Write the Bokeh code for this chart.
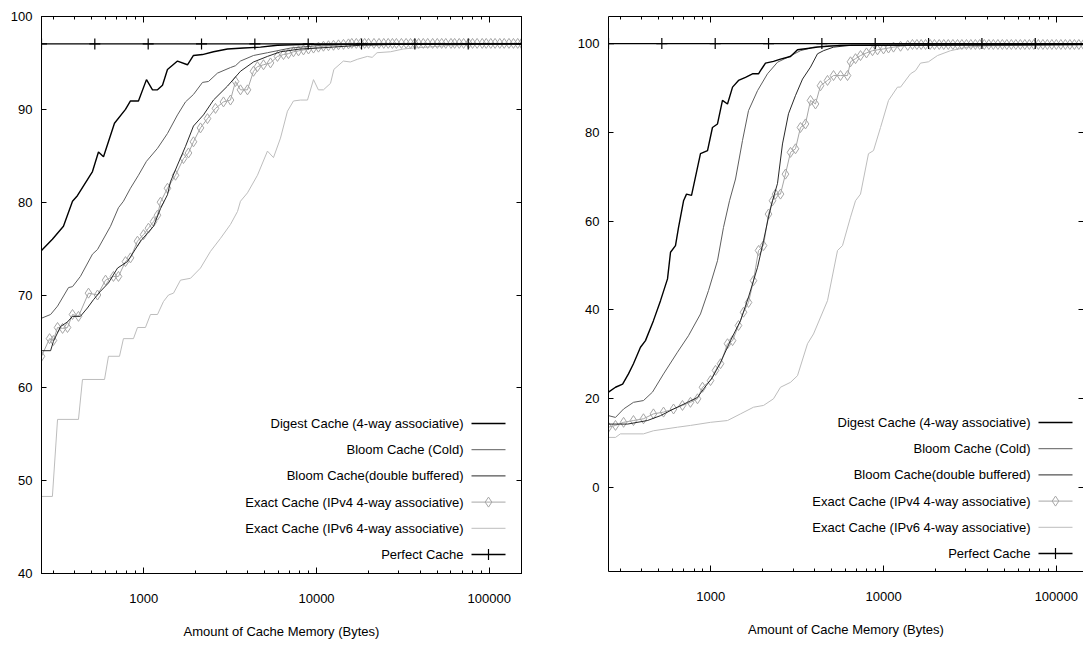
from math import log10
from bokeh.plotting import figure
from bokeh.layouts import row
from bokeh.models import LogAxis, LinearAxis, FixedTicker, PrintfTickFormatter
from bokeh.embed import file_html
from bokeh.resources import INLINE
from bokeh.core.properties import value

FONT = "Liberation Sans"
FSIZE = "13px"

SERIES_NAMES = [
    "Digest Cache (4-way associative)",
    "Bloom Cache (Cold)",
    "Bloom Cache(double buffered)",
    "Exact Cache (IPv4 4-way associative)",
    "Exact Cache (IPv6 4-way associative)",
    "Perfect Cache",
]

X_MAJOR_TICKS = [1000, 10000, 100000]
X_MINOR_TICKS = [300, 400, 500, 600, 700, 800, 900, 2000, 3000, 4000, 5000, 6000, 7000, 8000, 9000,
                 20000, 30000, 40000, 50000, 60000, 70000, 80000, 90000]
LEFT_Y_TICKS = [40, 50, 60, 70, 80, 90, 100]
RIGHT_Y_TICKS = [0, 20, 40, 60, 80, 100]

# ---------------- left panel ----------------
L_DIGEST_X = [256, 296, 343, 387, 413, 505, 547, 585, 677, 784, 838, 932, 1037, 1124, 1201, 1284, 1372, 1568,
              1791, 1940, 2188, 2533, 3052, 3778, 4739, 5942, 8866, 153600]
L_DIGEST_Y = [74.8, 76.0, 77.4, 80.1, 80.7, 83.3, 85.4, 84.9, 88.5, 90.0, 90.9, 90.9, 93.2, 92.1, 92.1, 92.6, 94.3,
              95.2, 94.8, 95.8, 95.9, 96.2, 96.5, 96.6, 96.7, 96.9, 97.0, 97.05]

L_COLD_X = [256, 289, 317, 367, 387, 430, 505, 540, 642, 714, 763, 838, 932, 1037, 1201, 1372, 1568, 1744, 1940,
            2188, 2370, 2671, 3177, 3397, 3630, 4316, 5202, 7068, 10683, 17958, 153600]
L_COLD_Y = [67.5, 67.9, 68.8, 70.8, 70.9, 72.0, 74.4, 74.9, 77.4, 79.4, 80.1, 81.5, 82.9, 84.4, 85.8, 87.4, 89.4,
            90.8, 91.6, 92.9, 93.0, 93.9, 94.5, 94.7, 95.2, 95.8, 96.1, 96.6, 96.9, 97.0, 97.05]

L_DOUBLE_X = [256, 289, 300, 330, 362, 387, 430, 472, 512, 562, 625, 705, 805, 958, 1139, 1250, 1372, 1428, 1568,
              1744, 1940, 2217, 2533, 3052, 3630, 4316, 5202, 6186, 8074, 10127, 17958, 30615, 153600]
L_DOUBLE_Y = [64.0, 64.0, 65.0, 66.6, 67.1, 67.7, 67.7, 68.6, 69.5, 70.4, 71.3, 72.9, 73.6, 75.8, 77.4, 79.3, 80.8,
              82.2, 84.0, 86.0, 88.2, 89.4, 91.0, 92.5, 94.1, 95.1, 95.7, 96.2, 96.5, 96.6, 96.9, 97.0, 97.05]

L_IPV4_X = [256, 285, 300, 317, 339, 362, 387, 419, 479, 540, 601, 668, 714, 784, 838, 920, 997, 1065, 1139, 1201,
            1250, 1372, 1527, 1698, 1815, 1940, 2130, 2338, 2601, 2894, 3177, 3397, 3630, 3984, 4316, 4552, 4933,
            5415, 5942, 6438, 6882, 7356, 7865, 8404, 8983, 9605, 10263, 10967, 11725, 12537, 13400, 14324, 15306,
            16000, 17000, 18000, 19000, 20000, 21500, 23000, 24500, 26000, 27500, 29000, 31000, 33000, 35000,
            37000, 39000, 41500, 44000, 47000, 50000, 53000, 56000, 60000, 63000, 67000, 71000, 76000, 80000,
            85000, 91000, 96000, 102000, 108000, 115000, 122000, 130000, 138000, 146000, 153600]
L_IPV4_Y = [63.4, 65.3, 65.1, 66.5, 66.4, 66.5, 67.9, 67.7, 70.2, 70.0, 71.6, 72.0, 72.0, 73.6, 74.0, 75.8, 76.5,
            77.2, 77.9, 78.6, 80.0, 81.5, 82.9, 84.7, 85.3, 86.5, 88.0, 89.0, 90.1, 90.8, 91.0, 93.0, 92.1, 92.1,
            94.1, 94.6, 94.8, 95.0, 95.7, 95.9, 96.0, 96.2, 96.3, 96.4, 96.5, 96.6, 96.7, 96.8, 96.85, 96.9, 96.95,
            97.0, 97.05,
            97.1, 97.1, 97.1, 97.1, 97.1, 97.1, 97.1, 97.1, 97.1, 97.1, 97.1, 97.1, 97.1, 97.1, 97.1, 97.1, 97.1,
            97.1, 97.1, 97.1, 97.1, 97.1, 97.1, 97.1, 97.1, 97.1, 97.1, 97.1, 97.1, 97.1, 97.1, 97.1, 97.1, 97.1,
            97.1, 97.1, 97.1, 97.1, 97.1]

L_IPV6_X = [256, 296, 317, 419, 442, 593, 625, 724, 763, 872, 920, 1023, 1094, 1201, 1301, 1391, 1487, 1632, 1865,
            2130, 2434, 2781, 3177, 3490, 3630, 3984, 4552, 5202, 5635, 6186, 6789, 7356, 8074, 8866, 9605, 10250,
            10970, 12050, 12600, 14300, 15700, 17300, 19700, 21000, 22400, 26800, 31800, 36300, 43600, 59600,
            88900, 153600]
L_IPV6_Y = [48.3, 48.3, 56.6, 56.6, 60.9, 60.9, 63.4, 63.4, 65.3, 65.3, 66.5, 66.5, 67.9, 67.9, 69.3, 70.0, 70.2,
            71.6, 71.8, 72.9, 74.7, 76.1, 77.6, 79.0, 80.1, 81.0, 82.9, 85.5, 84.8, 86.9, 89.8, 90.9, 91.0, 91.0,
            93.2, 92.1, 92.1, 92.8, 94.3, 95.2, 95.1, 95.4, 95.7, 95.6, 96.1, 96.2, 96.5, 96.6, 96.7, 96.9, 97.0,
            97.05]

L_PERFECT_X = [256, 521, 1061, 2160, 4396, 8949, 18218, 37087, 75498, 153600]
L_PERFECT_Y = [97.05, 97.05, 97.05, 97.05, 97.05, 97.05, 97.05, 97.05, 97.05, 97.05]

# ---------------- right panel ----------------
R_DIGEST_X = [256, 281, 309, 334, 357, 392, 419, 466, 512, 562, 585, 625, 651, 696, 724, 774, 872, 958, 1023, 1094,
              1169, 1250, 1337, 1447, 1589, 1744, 1890, 1940, 2074, 2307, 2533, 2894, 3177, 3630, 4148, 5635,
              153600]
R_DIGEST_Y = [21.5, 22.6, 23.3, 25.6, 27.9, 31.6, 33.1, 37.6, 42.1, 47.0, 53.0, 54.5, 58.6, 64.6, 66.1, 65.8, 75.2,
              75.9, 81.1, 81.9, 87.2, 86.4, 90.2, 91.7, 92.4, 93.2, 93.2, 93.9, 95.6, 96.0, 96.5, 97.1, 98.6, 98.9,
              99.2, 99.6, 99.8]

R_COLD_X = [256, 281, 313, 357, 408, 460, 533, 642, 743, 872, 971, 1094, 1185, 1284, 1391, 1527, 1654, 1865, 2130,
            2434, 2781, 3305, 3932, 4739, 6438, 153600]
R_COLD_Y = [16.2, 15.8, 17.7, 19.2, 19.6, 21.5, 25.6, 30.5, 34.2, 39.1, 44.4, 51.1, 58.6, 64.6, 69.5, 78.2, 84.9,
            89.4, 93.2, 95.8, 96.9, 98.4, 99.2, 99.5, 99.7, 99.8]

R_DOUBLE_X = [256, 330, 430, 512, 609, 734, 838, 908, 1023, 1139, 1301, 1487, 1654, 1865, 2020, 2159, 2277, 2434,
              2601, 2818, 3093, 3397, 3778, 4148, 4493, 5134, 6438, 153600]
R_DOUBLE_Y = [14.3, 14.3, 15.1, 16.2, 17.7, 19.2, 20.3, 22.2, 24.8, 28.2, 33.1, 37.6, 42.9, 49.6, 55.6, 60.9, 64.6,
              68.5, 77.4, 84.2, 88.3, 92.0, 94.7, 97.7, 98.4, 99.2, 99.6, 99.8]

R_IPV4_X = [256, 281, 313, 357, 408, 466, 533, 609, 686, 763, 838, 896, 997, 1065, 1139, 1250, 1337, 1447, 1547,
            1654, 1767, 1890, 2020, 2159, 2277, 2370, 2533, 2706, 2894, 3093, 3305, 3533, 3778, 4037, 4316, 4739,
            5134, 5635, 6186, 6438, 6882, 7356, 7967, 8630, 9227, 9995, 10683, 11418, 12537, 13800,
            14700, 15600, 16500, 17500, 18600, 19700, 21000, 22300, 23700, 25200, 26800, 28400, 30200, 32000,
            34000, 36000, 38300, 40700, 43200, 45900, 48700, 51700, 54900, 58300, 61900, 65700, 69800, 74100,
            78700, 83600, 88700, 94200, 100000, 106200, 112800, 119800, 127200, 135000, 143400]
R_IPV4_Y = [13.6, 14.0, 14.7, 15.1, 15.5, 16.6, 17.0, 17.7, 18.5, 19.2, 20.0, 22.6, 24.1, 26.4, 27.9, 32.4, 33.1,
            36.5, 39.5, 41.7, 46.6, 53.4, 54.5, 61.6, 64.6, 66.1, 66.1, 70.6, 75.5, 76.3, 81.1, 81.9, 87.2, 86.4,
            90.5, 91.7, 92.8, 92.8, 92.8, 95.9, 96.6, 97.3, 97.9, 98.4, 98.6, 98.8, 99.0, 99.2, 99.4, 99.6,
            99.8, 99.8, 99.8, 99.8, 99.8, 99.8, 99.8, 99.8, 99.8, 99.8, 99.8, 99.8, 99.8, 99.8, 99.8, 99.8, 99.8,
            99.8, 99.8, 99.8, 99.8, 99.8, 99.8, 99.8, 99.8, 99.8, 99.8, 99.8, 99.8, 99.8, 99.8, 99.8, 99.8, 99.8,
            99.8, 99.8, 99.8, 99.8, 99.8]

R_IPV6_X = [256, 281, 300, 408, 466, 642, 763, 997, 1250, 1487, 1767, 2020, 2307, 2533, 2894, 3177, 3630, 3932,
            4739, 5415, 5787, 6438, 6882, 7356, 8182, 8747, 9605, 10683, 12045, 12537, 14324, 15306, 16363, 18202,
            20516, 24402, 30615, 39960, 153600]
R_IPV6_Y = [11.3, 11.3, 12.1, 12.1, 12.8, 13.6, 14.0, 14.7, 15.1, 16.6, 18.1, 18.5, 20.0, 22.6, 23.7, 25.2, 32.4,
            34.6, 42.1, 53.4, 54.5, 60.9, 64.6, 66.1, 75.2, 75.9, 81.1, 87.2, 90.2, 90.2, 93.2, 93.9, 95.6, 95.9,
            97.3, 98.4, 99.2, 99.5, 99.8]

R_PERFECT_X = [256, 521, 1061, 2160, 4396, 8949, 18218, 37087, 75498, 153600]
R_PERFECT_Y = [100.0, 100.0, 100.0, 100.0, 100.0, 100.0, 100.0, 100.0, 100.0, 100.0]

STYLES = [
    dict(color="#000000", width=1.4, marker=None),
    dict(color="#5e5e5e", width=1.0, marker=None),
    dict(color="#111111", width=0.9, marker=None),
    dict(color="#a6a6a6", width=1.0, marker="diamond"),
    dict(color="#bdbdbd", width=1.0, marker=None),
    dict(color="#000000", width=1.3, marker="cross"),
]
DRAW_ORDER = [4, 3, 1, 2, 0, 5]


def style_axis(ax, labels=True):
    ax.axis_line_color = "black"
    ax.axis_line_width = 1
    ax.major_tick_line_color = "black"
    ax.minor_tick_line_color = "black"
    ax.major_tick_in = 6
    ax.major_tick_out = 0
    ax.minor_tick_in = 3
    ax.minor_tick_out = 0
    ax.major_label_text_font = FONT
    ax.major_label_text_color = "black"
    ax.major_label_text_font_size = FSIZE
    ax.axis_label_text_font = FONT
    ax.axis_label_text_font_style = "normal"
    ax.axis_label_text_color = "black"
    if not labels:
        ax.major_label_text_font_size = "1px"
        ax.major_label_text_alpha = 0
        ax.major_label_standoff = 0


def make_panel(xs, ys, x_end, y_rng, y_ticks, fw, fh, b_left, b_right, b_top, b_bottom,
               show_right_line, legend_rows_top):
    p = figure(x_axis_type="log", x_range=(256, x_end), y_range=y_rng,
               frame_width=fw, frame_height=fh,
               min_border_left=b_left, min_border_right=b_right, min_border_top=b_top,
               min_border_bottom=b_bottom, output_backend="svg", toolbar_location=None,
               background_fill_color="white", border_fill_color="white")
    p.xgrid.visible = False
    p.ygrid.visible = False
    p.outline_line_color = "black" if show_right_line else None

    xa = p.xaxis[0]
    xa.ticker = FixedTicker(ticks=X_MAJOR_TICKS, minor_ticks=X_MINOR_TICKS)
    xa.formatter = PrintfTickFormatter(format="%d")
    style_axis(xa)
    xa.major_label_standoff = 20
    xa.axis_label = "Amount of Cache Memory (Bytes)"
    xa.axis_label_text_font_size = FSIZE
    xa.axis_label_standoff = 18

    ya = p.yaxis[0]
    ya.ticker = FixedTicker(ticks=y_ticks, minor_ticks=[])
    style_axis(ya)
    ya.major_tick_in = 5
    ya.major_label_standoff = 9

    top = LogAxis(ticker=FixedTicker(ticks=X_MAJOR_TICKS, minor_ticks=X_MINOR_TICKS))
    style_axis(top, labels=False)
    p.add_layout(top, "above")

    rgt = LinearAxis(ticker=FixedTicker(ticks=y_ticks, minor_ticks=[]))
    style_axis(rgt, labels=False)
    rgt.major_tick_in = 5
    if not show_right_line:
        rgt.axis_line_alpha = 0
    p.add_layout(rgt, "right")

    for i in DRAW_ORDER:
        st = STYLES[i]
        p.line(xs[i], ys[i], line_color=st["color"], line_width=st["width"])
        if st["marker"] == "diamond":
            p.scatter(xs[i], ys[i], marker="diamond", size=10, fill_color=None,
                      line_color=st["color"], line_width=1)
        elif st["marker"] == "cross":
            p.scatter(xs[i], ys[i], marker="cross", size=11, line_color=st["color"], line_width=1.2)

    # legend (gnuplot style: right-aligned label, sample to its right)
    lx0, lx1 = log10(256), log10(x_end)
    y0, y1 = y_rng

    def dx(px):
        return 10 ** (lx0 + px / fw * (lx1 - lx0))

    def dy(py):
        return y1 - py / fh * (y1 - y0)

    for i, name in enumerate(SERIES_NAMES):
        st = STYLES[i]
        yv = dy(legend_rows_top + i * 26.2)
        p.text(x=[dx(422)], y=[yv], text=[name], text_align="right", text_baseline="middle",
               text_font=value(FONT), text_font_size=FSIZE, text_color="black")
        p.line(x=[dx(430), dx(464)], y=[yv, yv], line_color=st["color"], line_width=st["width"])
        if st["marker"] == "diamond":
            p.scatter(x=[dx(447)], y=[yv], marker="diamond", size=10, fill_color=None,
                      line_color=st["color"], line_width=1)
        elif st["marker"] == "cross":
            p.scatter(x=[dx(447)], y=[yv], marker="cross", size=11, line_color=st["color"], line_width=1.2)
    return p


left_xs = [L_DIGEST_X, L_COLD_X, L_DOUBLE_X, L_IPV4_X, L_IPV6_X, L_PERFECT_X]
left_ys = [L_DIGEST_Y, L_COLD_Y, L_DOUBLE_Y, L_IPV4_Y, L_IPV6_Y, L_PERFECT_Y]
right_xs = [R_DIGEST_X, R_COLD_X, R_DOUBLE_X, R_IPV4_X, R_IPV6_X, R_PERFECT_X]
right_ys = [R_DIGEST_Y, R_COLD_Y, R_DOUBLE_Y, R_IPV4_Y, R_IPV6_Y, R_PERFECT_Y]

p1 = make_panel(left_xs, left_ys, 153600, (40, 100), LEFT_Y_TICKS, 480, 557, 41, 20, 15, 77, True, 407)
p2 = make_panel(right_xs, right_ys, 143600, (-18.9, 106.1), RIGHT_Y_TICKS, 475, 555, 67, 0, 16, 78, False, 406)

layout = row(p1, p2)
open("out.html", "w").write(file_html(layout, INLINE))
